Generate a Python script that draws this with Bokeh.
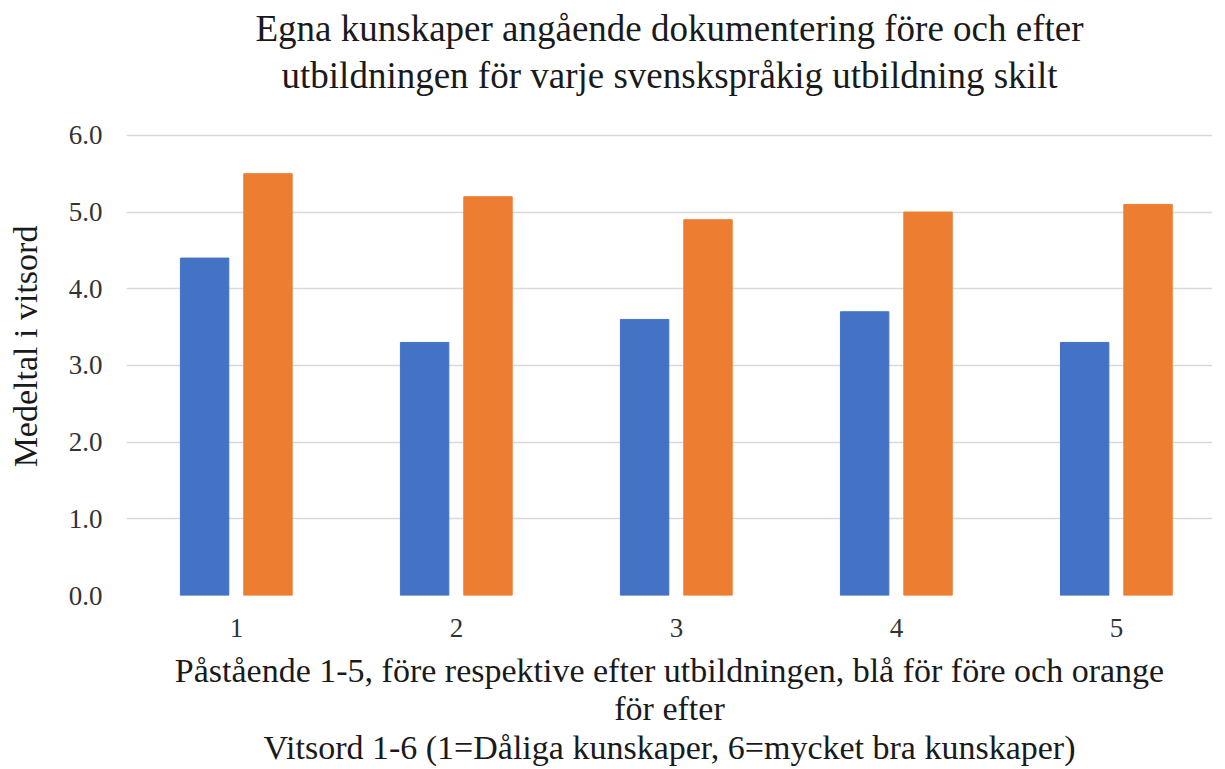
from bokeh.plotting import figure
from bokeh.models import FixedTicker, Range1d, Title, ColumnDataSource, PrintfTickFormatter
from bokeh.transform import dodge
from bokeh.embed import file_html
from bokeh.resources import INLINE

statements = [1, 2, 3, 4, 5]
fore = [4.4, 3.3, 3.6, 3.7, 3.3]
efter = [5.5, 5.2, 4.9, 5.0, 5.1]
y_ticks = [0, 1, 2, 3, 4, 5, 6]

title_lines = ["Egna kunskaper angående dokumentering före och efter",
               "utbildningen för varje svenskspråkig utbildning skilt"]
x_label = ("Påstående 1-5, före respektive efter utbildningen, blå för före och orange\n"
           "för efter\n"
           "Vitsord 1-6 (1=Dåliga kunskaper, 6=mycket bra kunskaper)")
y_label = "Medeltal i vitsord"

FONT = "'Liberation Serif', 'Times New Roman', serif"

src = ColumnDataSource(dict(x=statements, fore=fore, efter=efter))

# frame extends a little above 6.0 (white on white) so the title sits close
p = figure(width=1225, height=769, output_backend="svg", toolbar_location=None,
           x_range=Range1d(0.5, 5.436), y_range=Range1d(0, 6.494),
           min_border_left=126, min_border_right=13, min_border_top=97,
           min_border_bottom=172)
p.title = None

p.vbar(x=dodge("x", -0.145, range=p.x_range), top="fore", width=0.22,
       source=src, color="#4472C4")
p.vbar(x=dodge("x", 0.143, range=p.x_range), top="efter", width=0.22,
       source=src, color="#ED7D31")

for line in reversed(title_lines):
    p.add_layout(Title(text=line, align="center", text_font=FONT,
                       text_font_size="37px", text_font_style="normal",
                       text_color="#1a1a1a", standoff=4), "above")

p.outline_line_color = None
p.background_fill_color = "white"
p.border_fill_color = "white"

p.xgrid.grid_line_color = None
p.ygrid.grid_line_color = "#d9d9d9"
p.ygrid.grid_line_width = 1.3

p.yaxis.ticker = FixedTicker(ticks=y_ticks)
p.yaxis.formatter = PrintfTickFormatter(format="%.1f")
p.xaxis.ticker = FixedTicker(ticks=statements)

for ax in (p.xaxis[0], p.yaxis[0]):
    ax.axis_line_color = None
    ax.major_tick_line_color = None
    ax.minor_tick_line_color = None
    ax.major_tick_out = 0
    ax.major_label_text_font = FONT
    ax.major_label_text_font_size = "27px"
    ax.major_label_text_color = "#333333"
    ax.axis_label_text_font = FONT
    ax.axis_label_text_font_style = "normal"
    ax.axis_label_text_color = "#1a1a1a"
    ax.axis_label_text_font_size = "34px"

p.yaxis.major_label_standoff = 24
p.xaxis.major_label_standoff = 23
p.yaxis.axis_label = y_label
p.yaxis.axis_label_standoff = 22
p.xaxis.axis_label = x_label
p.xaxis.axis_label_text_line_height = 1.05
p.xaxis.axis_label_standoff = 12

open("out.html", "w").write(file_html(p, INLINE))
